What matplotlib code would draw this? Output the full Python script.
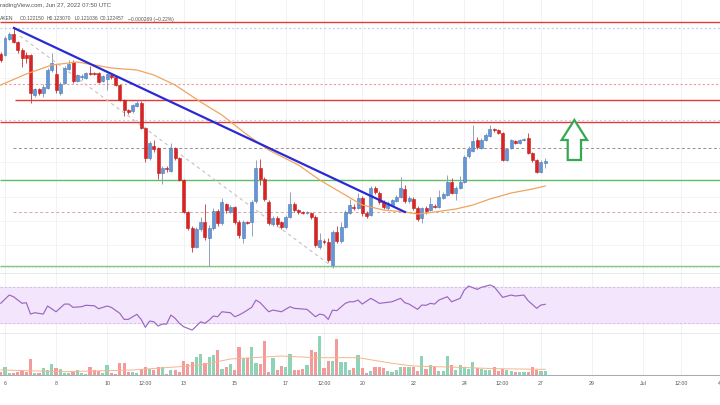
import numpy as np
import matplotlib.pyplot as plt
from matplotlib.patches import Polygon

# Velas de 4 horas desde el 5 de junio 20:00 UTC (eje x en dias de junio)
t0 = 5 + 20 / 24.
paso = 4 / 24.

aperturas = [
    .12790, .12785, .12865, .12890, .12850, .12810, .12785, .12785, .12585, .12615,
    .12595, .12620, .12710, .12690, .12595, .12645, .12715, .12750, .12655, .12675,
    .12670, .12695, .12695, .12695, .12655, .12665, .12685, .12675, .12635, .12560,
    .12510, .12505, .12530, .12545, .12420, .12270, .12330, .12320, .12195, .12220,
    .12205, .12320, .12270, .12160, .12000, .11920, .11825, .11915, .11950, .11870,
    .11920, .12005, .11945, .12040, .12000, .12025, .11950, .11870, .11950, .11950,
    .12055, .12220, .12165, .12050, .11940, .11970, .11950, .11925, .11975, .12040,
    .12010, .12000, .11995, .11995, .11975, .11825, .11855, .11850, .11735, .11900,
    .11855, .11925, .11995, .12025, .12020, .12070, .11995, .11985, .12120, .12095,
    .12050, .12020, .12035, .12055, .12075, .12115, .12055, .12065, .12020, .11970,
    .12020, .12010, .12030, .12025, .12070, .12085, .12150, .12095, .12120, .12150,
    .12280, .12305, .12360, .12320, .12360, .12380, .12415, .12410, .12395, .12260,
    .12320, .12355, .12345, .12360, .12370, .12295, .12260, .12200, .12245]
maximos = [
    .12800, .12880, .12900, .12920, .12855, .12820, .12800, .12790, .12620, .12620,
    .12640, .12720, .12795, .12740, .12650, .12730, .12760, .12760, .12690, .12690,
    .12700, .12730, .12700, .12700, .12685, .12695, .12690, .12680, .12640, .12565,
    .12515, .12540, .12560, .12555, .12425, .12355, .12360, .12325, .12230, .12230,
    .12345, .12325, .12275, .12165, .12005, .11930, .11925, .11975, .12040, .11935,
    .12020, .12015, .12070, .12045, .12035, .12030, .11960, .11960, .11955, .12060,
    .12260, .12265, .12175, .12060, .11980, .11980, .11955, .11985, .12100, .12050,
    .12015, .12005, .12005, .12000, .11985, .11895, .11865, .11870, .11910, .11930,
    .11950, .12010, .12065, .12040, .12095, .12080, .12005, .12130, .12130, .12105,
    .12060, .12055, .12065, .12085, .12175, .12135, .12080, .12075, .12030, .12025,
    .12030, .12075, .12040, .12110, .12100, .12185, .12170, .12130, .12180, .12285,
    .12330, .12435, .12375, .12370, .12395, .12435, .12420, .12415, .12400, .12320,
    .12365, .12360, .12365, .12370, .12395, .12300, .12265, .12260, .12270]
minimos = [
    .12750, .12780, .12860, .12845, .12795, .12725, .12745, .12545, .12575, .12585,
    .12575, .12615, .12700, .12595, .12585, .12640, .12710, .12645, .12650, .12660,
    .12665, .12685, .12685, .12645, .12650, .12610, .12665, .12630, .12555, .12480,
    .12490, .12495, .12525, .12415, .12250, .12260, .12300, .12165, .12140, .12200,
    .12200, .12260, .12155, .11995, .11910, .11800, .11820, .11905, .11860, .11730,
    .11910, .11930, .11935, .11995, .11995, .11940, .11870, .11845, .11940, .11880,
    .12045, .12135, .12055, .11935, .11930, .11930, .11915, .11915, .11970, .12000,
    .11990, .11990, .11990, .11965, .11825, .11815, .11840, .11750, .11720, .11845,
    .11845, .11920, .11990, .12010, .12015, .11980, .11970, .11980, .12090, .12040,
    .12015, .12010, .12030, .12050, .12070, .12045, .12045, .12010, .11955, .11945,
    .11990, .12005, .12020, .12020, .12065, .12080, .12090, .12060, .12115, .12145,
    .12270, .12300, .12315, .12315, .12355, .12375, .12400, .12390, .12255, .12255,
    .12315, .12340, .12340, .12355, .12290, .12250, .12195, .12195, .12220]
cierres = [
    .12760, .12870, .12890, .12850, .12810, .12770, .12770, .12595, .12615, .12595,
    .12625, .12710, .12745, .12610, .12640, .12720, .12740, .12655, .12685, .12680,
    .12695, .12690, .12690, .12650, .12680, .12690, .12675, .12635, .12560, .12510,
    .12500, .12535, .12545, .12420, .12270, .12345, .12315, .12195, .12220, .12215,
    .12320, .12270, .12160, .12000, .11920, .11825, .11915, .11950, .11875, .11920,
    .12005, .11945, .12050, .12010, .12025, .11950, .11885, .11950, .11945, .12050,
    .12220, .12165, .12065, .11945, .11970, .11940, .11925, .11975, .12040, .12010,
    .12000, .11995, .12000, .11975, .11835, .11860, .11850, .11760, .11900, .11855,
    .11925, .12000, .12035, .12020, .12070, .11995, .11980, .12120, .12100, .12050,
    .12025, .12045, .12060, .12075, .12120, .12055, .12070, .12020, .11965, .12020,
    .12005, .12040, .12025, .12075, .12090, .12150, .12095, .12120, .12150, .12275,
    .12315, .12355, .12325, .12360, .12385, .12415, .12410, .12395, .12260, .12315,
    .12360, .12345, .12360, .12365, .12295, .12260, .12200, .12250, .12255]
# Volumen (miles)
volumen = [
    10, 25, 7, 7, 10, 13, 10, 47, 5, 5,
    20, 15, 32, 20, 17, 7, 7, 10, 15, 5,
    3, 25, 15, 13, 5, 30, 5, 3, 37, 37,
    10, 10, 5, 17, 23, 17, 15, 25, 25, 3,
    15, 15, 10, 43, 33, 39, 53, 63, 35, 55,
    60, 75, 17, 23, 33, 15, 83, 50, 52, 83,
    35, 33, 103, 10, 50, 15, 27, 23, 63, 15,
    15, 19, 30, 75, 70, 117, 20, 43, 43, 107,
    40, 40, 15, 20, 60, 20, 5, 13, 25, 25,
    20, 13, 10, 15, 23, 23, 23, 25, 13, 57,
    17, 30, 23, 13, 13, 57, 30, 15, 30, 23,
    17, 39, 20, 17, 15, 15, 23, 13, 17, 15,
    13, 10, 10, 10, 10, 23, 15, 13, 13]

rsi_idx = [0, 2, 3, 5, 6, 7, 8, 10, 11, 13, 15, 16, 17, 19, 20, 22, 23, 25, 26, 28,
           29, 30, 32, 33, 34, 35, 36, 37, 38, 39, 40, 41, 42, 43, 45, 46, 47, 48, 49, 50,
           51, 52, 54, 55, 56, 57, 59, 60, 61, 63, 64, 66, 68, 69, 72, 74, 75, 76, 77, 78,
           79, 81, 82, 83, 84, 85, 87, 88, 89, 92, 94, 95, 96, 98, 99, 100, 101, 102, 103, 105,
           106, 108, 109, 110, 112, 113, 115, 116, 118, 120, 121, 123, 124, 126, 127, 128]
rsi_val = [52, 61.3, 59.4, 52, 52.6, 39.8, 41.3, 39.8, 48.9, 42.4,
           51.1, 51.1, 47.4, 48.1, 49.7, 49.2, 45.8, 48.9, 47.4, 40.6,
           33.8, 33.8, 39.5, 33.8, 24.8, 31.9, 31.1, 26.3, 28.5, 28.5,
           38.7, 35, 29.3, 25.5, 21.7, 26.3, 31.1, 29.3, 33, 37.6,
           36.8, 42.4, 41.3, 36.8, 38.7, 41.3, 47.4, 55.6, 52.6, 42.4,
           44.3, 42.4, 48.1, 46.3, 45.1, 36.8, 39.8, 38.7, 33.8, 44.3,
           43.6, 51.9, 53.7, 53.7, 55.6, 51.1, 57.6, 54.9, 51.9, 53.7,
           57.6, 52.6, 51.1, 45.1, 50, 49.7, 51.9, 51.1, 55.6, 59.4,
           53.7, 57.6, 67, 71.5, 67.7, 70, 72.6, 70.7, 58.7, 61.3,
           60.2, 61.3, 54.9, 46.3, 50, 50.8]

# Media movil del precio
ma_idx = [0, 6, 12, 18, 26, 32, 36, 41, 47, 52, 58, 63, 70, 75, 81, 85, 90, 95, 98,
          102, 107, 111, 115, 120, 125, 128]
ma_val = [0.12635, 0.1269, 0.12735, 0.1275, 0.1272, 0.1271, 0.12685, 0.12635, 0.1255,
          0.12485, 0.12385, 0.1231, 0.12235, 0.1216, 0.12085, 0.12035, 0.1201, 0.1200,
          0.1199, 0.1200, 0.12015, 0.12035, 0.12065, 0.12095, 0.12115, 0.1213]

# Media movil del volumen
vma_idx = [0, 15, 31, 42, 47, 54, 66, 74, 84, 92, 97, 108, 116, 128]
vma_val = [15, 10, 15, 25, 30, 48, 57, 52, 52, 35, 27, 23, 19, 17]

# Lineas dibujadas a mano
tend_t = [6.35, 21.67]
tend_p = [0.1292, 0.1200]
diag_t = [6.59, 18.74]
diag_p = [0.1288, 0.11735]

# Niveles horizontales
res_roja = [0.1295, 0.1256, 0.1245]
punteada_lila = [0.1292, 0.1246]
punteada_rosa = 0.1264
gris_1 = 0.1232
soporte_verde = [0.1216, 0.1173]
gris_2 = 0.1200

# Flecha verde
flecha_t = 28.31
flecha_tope = 0.1246
flecha_cuello = 0.1236
flecha_base = 0.1226

tick_dias = [6, 8, 10, 11.5, 13, 15, 17, 18.5, 20, 22, 24, 25.5, 27, 29, 31, 32.5, 34]
tick_textos = ['6', '8', '10', '12:00', '13', '15', '17', '12:00', '20', '22', '24',
               '12:00', '27', '29', 'Jul', '12:00', '4']
rejilla = [0.12795, 0.1267, 0.1225, 0.12075, 0.11955, 0.11835]

# ---------------------------------------------------------------
o = np.array(aperturas)
h = np.array(maximos)
l = np.array(minimos)
c = np.array(cierres)
t = t0 + np.arange(len(o)) * paso
sube = c >= o

plt.rcParams['font.family'] = ['Liberation Sans', 'DejaVu Sans']
fig = plt.figure(figsize=(7.2, 4.05), dpi=100)
ax = fig.add_axes([0, 0.3259, 1, 0.6741])
ax_rsi = fig.add_axes([0, 0.1778, 1, 0.1481], sharex=ax)
ax_vol = fig.add_axes([0, 0.0716, 1, 0.1062], sharex=ax)

xmin, xmax = 5.804, 34.017
for a in (ax, ax_rsi, ax_vol):
    a.set_xlim(xmin, xmax)
    for s in a.spines.values():
        s.set_visible(False)
    a.tick_params(left=False, labelleft=False, bottom=False, labelbottom=False)
    for d in tick_dias:
        a.axvline(d, color='#eef0f4', lw=0.6, zorder=0)

ax.set_ylim(0.11695, 0.1306)
for p in rejilla:
    ax.axhline(p, color='#f1f3f7', lw=0.6, zorder=0)

# Niveles
ax.hlines(res_roja[0], xmin, xmax, color='#e53935', lw=1.0, zorder=1)
ax.hlines(res_roja[1], 6.39, xmax, color='#e53935', lw=1.0, zorder=1)
ax.hlines(res_roja[2], xmin, xmax, color='#e53935', lw=1.0, zorder=1)
for p in punteada_lila:
    ax.hlines(p, xmin, xmax, color='#c5cae9', lw=0.9, linestyles=(0, (1.5, 2)), zorder=1)
ax.hlines(punteada_rosa, xmin, xmax, color='#ef9a9a', lw=0.8, linestyles=(0, (2, 2)), zorder=1)
ax.hlines(gris_1, 6.31, xmax, color='#a08c8c', lw=0.7, linestyles=(0, (3, 2.5)), zorder=1)
ax.hlines(gris_2, 6.31, xmax, color='#d4a5a5', lw=0.7, linestyles=(0, (3, 2.5)), zorder=1)
ax.hlines(soporte_verde[0], xmin, xmax, color='#66bb6a', lw=1.0, zorder=1)
ax.hlines(soporte_verde[1], xmin, xmax, color='#81c784', lw=1.0, zorder=1)
ax.hlines(soporte_verde[1] - 0.00007, xmin, xmax, color='#c8e6c9', lw=0.8,
          linestyles=(0, (1.5, 2)), zorder=1)

# Velas
ancho = 0.7 * paso
ax.vlines(t[sube], l[sube], h[sube], color='#8e9bb0', lw=0.65, zorder=3)
ax.vlines(t[~sube], l[~sube], h[~sube], color='#c04848', lw=0.65, zorder=3)
cuerpo = np.maximum(np.abs(c - o), 0.00004)
ax.bar(t[sube], cuerpo[sube], ancho, bottom=np.minimum(o, c)[sube],
       color='#6497d6', edgecolor='#4a78b8', lw=0.4, zorder=4)
ax.bar(t[~sube], cuerpo[~sube], ancho, bottom=np.minimum(o, c)[~sube],
       color='#d92424', edgecolor='#c21d1d', lw=0.4, zorder=4)

# Media movil y lineas de tendencia
ax.plot(t0 + np.array(ma_idx) * paso, ma_val, color='#f2a45e', lw=0.9, zorder=5)
ax.plot(diag_t, diag_p, color='#c2c2c2', lw=0.8, ls=(0, (3, 3)), zorder=2)
ax.plot(tend_t, tend_p, color='#2a2ad2', lw=1.6, zorder=6)

# Flecha hueca
cab, cue = 0.5, 0.26
pts = [(flecha_t - cue, flecha_base), (flecha_t - cue, flecha_cuello),
       (flecha_t - cab, flecha_cuello), (flecha_t, flecha_tope),
       (flecha_t + cab, flecha_cuello), (flecha_t + cue, flecha_cuello),
       (flecha_t + cue, flecha_base)]
ax.add_patch(Polygon(pts, closed=True, facecolor='white', edgecolor='#34a853',
                     lw=1.6, joinstyle='miter', zorder=7))

# RSI
ax_rsi.set_ylim(18.4, 86.2)
ax_rsi.axhspan(30, 70, color='#f3e6fc', zorder=0)
ax_rsi.axhline(70, color='#d2b8e8', lw=0.6, ls=(0, (3, 2)), zorder=1)
ax_rsi.axhline(30, color='#d2b8e8', lw=0.6, ls=(0, (3, 2)), zorder=1)
ax_rsi.plot(t0 + np.array(rsi_idx) * paso, rsi_val, color='#9b66c2', lw=0.85, zorder=3)

# Volumen
v = np.array(volumen)
ax_vol.set_ylim(-3, 126)
ax_vol.bar(t[sube], v[sube], 0.75 * paso, color='#8fd3b6', zorder=2)
ax_vol.bar(t[~sube], v[~sube], 0.75 * paso, color='#f39a9a', zorder=2)
ax_vol.plot(t0 + np.array(vma_idx) * paso, vma_val, color='#f7b48e', lw=0.7, zorder=3)
ax_vol.axhline(0, color='#a9acb4', lw=0.8, zorder=4)

ax_vol.set_xticks(tick_dias)
ax_vol.set_xticklabels(tick_textos)
ax_vol.tick_params(labelbottom=True, labelsize=3.8, labelcolor='#555555', pad=0.3)

# Separadores de paneles
fig.add_artist(plt.Line2D([0, 1], [1 - 273 / 405.] * 2, color='#e3e5ea', lw=0.6))
fig.add_artist(plt.Line2D([0, 1], [1 - 333 / 405.] * 2, color='#e3e5ea', lw=0.6))

# Encabezado
fig.text(0.5 / 720, 1 - 6 / 405., 'radingView.com, Jun 27, 2022 07:50 UTC',
         fontsize=4.3, color='#555555', va='center')
campos = ['AKEN', 'O0.122150', 'H0.123070', 'L0.121036', 'C0.122457', '\u22120.000269 (\u22120.22%)']
pos_x = [0, 20, 47, 75, 100, 128]
for txt, px in zip(campos, pos_x):
    fig.text(px / 720., 1 - 19 / 405., txt, fontsize=3.6, color='#555555', va='center')

fig.savefig('out.png', dpi=100)
